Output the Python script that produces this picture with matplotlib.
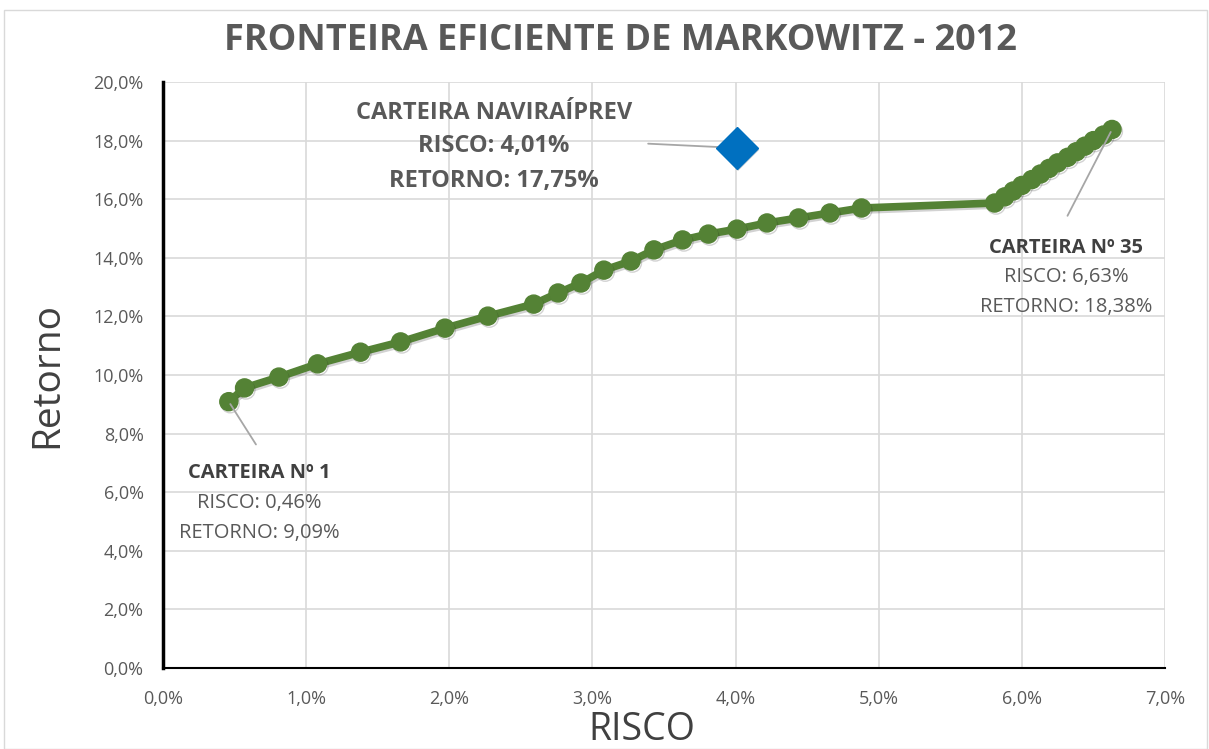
#Fronteira eficiente de Markowitz - 2012
import matplotlib.pyplot as plt
import matplotlib.patheffects as pe
from matplotlib.patches import Rectangle

plt.rcParams['font.family']=['Open Sans','DejaVu Sans']
plt.rcParams['font.size']=13

# >>>dados (risco e retorno em %)
risco=[0.46,0.57,0.81,1.08,1.38,1.66,1.97,2.27,2.59,2.76,
       2.92,3.08,3.27,3.43,3.63,3.81,4.01,4.22,4.44,4.66,4.88,
       5.81,5.88,5.94,6.00,6.07,6.13,6.19,6.25,6.32,6.38,6.44,6.50,6.57,6.63]
retorno=[9.09,9.56,9.93,10.38,10.78,11.13,11.60,12.01,12.42,12.80,
         13.14,13.58,13.89,14.27,14.61,14.81,14.98,15.19,15.36,15.53,15.70,
         15.87,16.08,16.28,16.47,16.67,16.86,17.05,17.24,17.43,17.62,17.81,18.00,18.19,18.38]
navRisco=[4.01]
navRetorno=[17.75]

xTicks=[0,1,2,3,4,5,6,7]
yTicks=[0,2,4,6,8,10,12,14,16,18,20]

verde='#548235'
azul='#0070C0'
cinza='#595959'

fig=plt.figure(figsize=(12.09,7.49),dpi=100)
ax=fig.add_axes([0.1348,0.1081,0.8288,0.7824])

ax.plot(risco,retorno,'-o',color=verde,lw=5.5,ms=13,zorder=3,
        path_effects=[pe.SimpleLineShadow(offset=(1,-1.5),alpha=0.2,shadow_color='#202020'),pe.Normal()])
ax.plot(navRisco,navRetorno,'D',color=azul,ms=21,zorder=4,
        path_effects=[pe.SimplePatchShadow(offset=(1,-1.5),alpha=0.25),pe.Normal()])

ax.set_xlim(0,7)
ax.set_ylim(0,20)
ax.set_xticks(xTicks)
ax.set_yticks(yTicks)
ax.set_yticklabels([('%.1f%%'%v).replace('.',',') for v in yTicks])
ax.set_xticklabels([('%.1f%%'%v).replace('.',',') for v in xTicks])
ax.tick_params(axis='x',length=0,labelsize=13,labelcolor=cinza,pad=16)
ax.tick_params(axis='y',length=0,labelsize=13,labelcolor=cinza,pad=14)
ax.grid(True,color='#d9d9d9',lw=1.2,zorder=0)
ax.set_axisbelow(True)
for s in ['top','right']:
    ax.spines[s].set_visible(False)
ax.spines['left'].set_linewidth(2.5)
ax.spines['bottom'].set_linewidth(1.5)

ax.set_xlabel('RISCO',fontsize=27,color='#404040',labelpad=0)
ax.xaxis.set_label_coords(0.478,-0.074)
ax.set_ylabel('Retorno',fontsize=28,color='#404040')
ax.yaxis.set_label_coords(-0.097,0.5)
fig.text(0.513,0.945,'FRONTEIRA EFICIENTE DE MARKOWITZ - 2012',ha='center',va='center',
         fontsize=26,fontweight='bold',color=cinza)

# >>>rótulos
lc='#a6a6a6'
fs=14.5
ax.annotate('',xy=(risco[0],retorno[0]),xytext=(0.66,7.55),
            arrowprops=dict(arrowstyle='-',color=lc,lw=1.3))
ax.text(0.67,6.65,'CARTEIRA Nº 1',ha='center',va='center',fontsize=fs,fontweight='bold',color='#404040')
ax.text(0.67,5.62,'RISCO: 0,46%',ha='center',va='center',fontsize=fs,color=cinza)
ax.text(0.67,4.6,'RETORNO: 9,09%',ha='center',va='center',fontsize=fs,color=cinza)

ax.annotate('',xy=(risco[-1],retorno[-1]),xytext=(6.31,15.35),
            arrowprops=dict(arrowstyle='-',color=lc,lw=1.3))
ax.text(6.31,14.35,'CARTEIRA Nº 35',ha='center',va='center',fontsize=fs,fontweight='bold',color='#404040')
ax.text(6.31,13.33,'RISCO: 6,63%',ha='center',va='center',fontsize=fs,color=cinza)
ax.text(6.31,12.32,'RETORNO: 18,38%',ha='center',va='center',fontsize=fs,color=cinza)

ax.annotate('',xy=(navRisco[0],navRetorno[0]),xytext=(3.37,17.9),
            arrowprops=dict(arrowstyle='-',color=lc,lw=1.3))
ax.text(2.31,18.95,'CARTEIRA NAVIRAÍPREV',ha='center',va='center',fontsize=17,fontweight='bold',color=cinza)
ax.text(2.31,17.8,'RISCO: 4,01%',ha='center',va='center',fontsize=17,fontweight='bold',color=cinza)
ax.text(2.31,16.62,'RETORNO: 17,75%',ha='center',va='center',fontsize=17,fontweight='bold',color=cinza)

fig.patches.append(Rectangle((0.003,0.0),0.995,0.987,transform=fig.transFigure,
                             fill=False,edgecolor='#d9d9d9',lw=1))

plt.savefig('out.png',dpi=100)
